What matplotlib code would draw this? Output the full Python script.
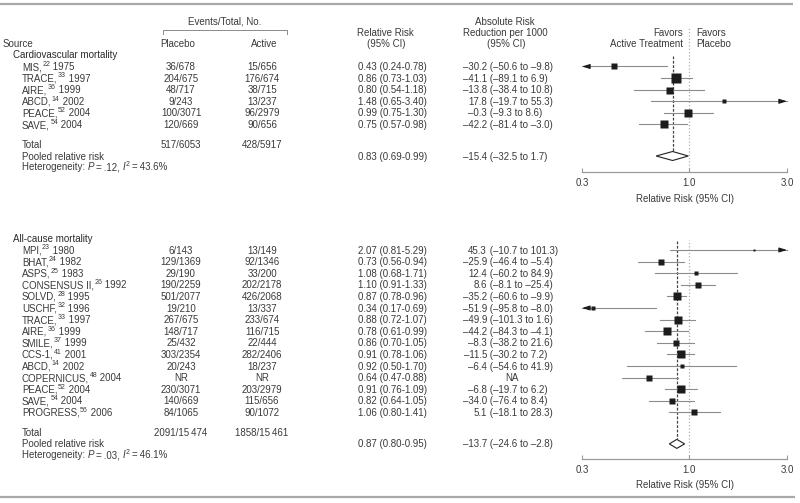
import matplotlib
matplotlib.use("Agg")
import matplotlib.pyplot as plt
from matplotlib.ticker import NullLocator

plt.rcParams['font.family'] = ['Liberation Sans', 'DejaVu Sans']

# ---- cardiovascular mortality ----
cv_names = ["MIS", "TRACE", "AIRE", "ABCD", "PEACE", "SAVE"]
cv_refs = ["22", "33", "36", "14", "52", "54"]
cv_years = ["1975", "1997", "1999", "2002", "2004", "2004"]
cv_placebo = ["36/678", "204/675", "48/717", "9/243", "100/3071", "120/669"]
cv_active = ["15/656", "176/674", "38/715", "13/237", "96/2979", "90/656"]
cv_rr = [0.43, 0.86, 0.80, 1.48, 0.99, 0.75]
cv_lo = [0.24, 0.73, 0.54, 0.65, 0.75, 0.57]
cv_hi = [0.78, 1.03, 1.18, 3.40, 1.30, 0.98]
cv_arr = ["–30.2", "–41.1", "–13.8", "17.8", "–0.3", "–42.2"]
cv_arr_ci = ["(–50.6 to –9.8)", "(–89.1 to 6.9)", "(–38.4 to 10.8)",
             "(–19.7 to 55.3)", "(–9.3 to 8.6)", "(–81.4 to –3.0)"]
cv_weight = [5.5, 10, 7, 3.7, 8.7, 8]
cv_total = ["517/6053", "428/5917"]
cv_pooled = [0.83, 0.69, 0.99]
cv_pooled_arr = ["–15.4", "(–32.5 to 1.7)"]
cv_het = [".12", "43.6%"]

# ---- all-cause mortality ----
ac_names = ["MPI", "BHAT", "ASPS", "CONSENSUS II", "SOLVD", "USCHF", "TRACE", "AIRE",
            "SMILE", "CCS-1", "ABCD", "COPERNICUS", "PEACE", "SAVE", "PROGRESS"]
ac_refs = ["23", "24", "25", "26", "28", "32", "33", "36", "37", "41", "14", "48",
           "52", "54", "56"]
ac_years = ["1980", "1982", "1983", "1992", "1995", "1996", "1997", "1999", "1999",
            "2001", "2002", "2004", "2004", "2004", "2006"]
ac_placebo = ["6/143", "129/1369", "29/190", "190/2259", "501/2077", "19/210",
              "267/675", "148/717", "25/432", "303/2354", "20/243", "NR",
              "230/3071", "140/669", "84/1065"]
ac_active = ["13/149", "92/1346", "33/200", "202/2178", "426/2068", "13/337",
             "233/674", "116/715", "22/444", "282/2406", "18/237", "NR",
             "203/2979", "115/656", "90/1072"]
ac_rr = [2.07, 0.73, 1.08, 1.10, 0.87, 0.34, 0.88, 0.78, 0.86, 0.91, 0.92, 0.64, 0.91, 0.82, 1.06]
ac_lo = [0.81, 0.56, 0.68, 0.91, 0.78, 0.17, 0.72, 0.61, 0.70, 0.78, 0.50, 0.47, 0.76, 0.64, 0.80]
ac_hi = [5.29, 0.94, 1.71, 1.33, 0.96, 0.69, 1.07, 0.99, 1.05, 1.06, 1.70, 0.88, 1.09, 1.05, 1.41]
ac_arr = ["45.3", "–25.9", "12.4", "8.6", "–35.2", "–51.9", "–49.9", "–44.2",
          "–8.3", "–11.5", "–6.4", "NA", "–6.8", "–34.0", "5.1"]
ac_arr_ci = ["(–10.7 to 101.3)", "(–46.4 to –5.4)", "(–60.2 to 84.9)", "(–8.1 to –25.4)",
             "(–60.6 to –9.9)", "(–95.8 to –8.0)", "(–101.3 to 1.6)", "(–84.3 to –4.1)",
             "(–38.2 to 21.6)", "(–30.2 to 7.2)", "(–54.6 to 41.9)", "",
             "(–19.7 to 6.2)", "(–76.4 to 8.4)", "(–18.1 to 28.3)"]
ac_weight = [2.7, 6.7, 4.7, 6.7, 8.7, 4, 7.3, 7.3, 6.7, 8, 3.3, 5.3, 7.3, 6.7, 6]
ac_total = ["2091/15\u2009474", "1858/15\u2009461"]
ac_pooled = [0.87, 0.80, 0.95]
ac_pooled_arr = ["–13.7", "(–24.6 to –2.8)"]
ac_het = [".03", "46.1%"]

W, H = 800, 503
TXT = '#3a3a3a'
FS = 7
SUP = 5
XMIN, XMAX = 0.3, 3.0
THIN = "\u2009"

fig = plt.figure(figsize=(8, 5.03), dpi=100)
tab = fig.add_axes([0, 0, 1, 1])
tab.set_xlim(0, W)
tab.set_ylim(H, 0)
tab.axis('off')


def put(x, y, s, ha='left', color=TXT):
    # y is the row centre in pixels; shift to baseline
    return tab.text(x, y + 3.5, s, ha=ha, va='baseline', fontsize=FS, color=color)


def chain(x, y, parts):
    # parts: (text, kind) with kind 'n' normal, 'i' italic, 's' superscript
    prev = put(x, y, parts[0][0])
    lift = 0
    for s, kind in parts[1:]:
        new_lift = 3.0 if kind == 's' else 0
        prev = tab.annotate(s, xy=(1, 0), xycoords=prev,
                            xytext=(0.3 if kind == 's' else 0, new_lift - lift),
                            textcoords='offset points', ha='left', va='bottom',
                            fontsize=SUP if kind == 's' else FS,
                            style='italic' if kind == 'i' else 'normal', color=TXT)
        lift = new_lift


# rules and header
tab.plot([0, 793], [4, 4], color='#a8a8a8', lw=1.6, solid_capstyle='butt')
tab.plot([0, 795], [497, 497], color='#a8a8a8', lw=1.6, solid_capstyle='butt')
put(225, 21, "Events/Total, No.", ha='center')
tab.plot([163, 163, 287, 287], [34, 29.5, 29.5, 34], color='#8a8a8a', lw=0.7)
put(3, 43, "Source")
put(178, 43, "Placebo", ha='center')
put(264, 43, "Active", ha='center')
put(385, 32, "Relative Risk", ha='center')
put(386, 43, "(95% CI)", ha='center')
put(505, 21, "Absolute Risk", ha='center')
put(505, 32, "Reduction per 1000", ha='center')
put(506, 43, "(95% CI)", ha='center')
put(683, 32, "Favors", ha='right')
put(683, 43, "Active Treatment", ha='right')
put(696, 32, "Favors")
put(696, 43, "Placebo")


def section(title, head_y, ax_top, dash_top, axis_y, names, refs, years, plac, act,
            rr, lo, hi, arr, arr_ci, weight, total, pooled, pooled_arr, het):
    step = 11.6
    ys = [head_y + 12 + i * step for i in range(len(names))]
    y_tot = ys[-1] + 20.5
    y_pool = y_tot + 11
    y_het = y_pool + 11

    put(13, head_y, title, color='#2a2a2a')
    for i, y in enumerate(ys):
        chain(22, y, [(names[i] + ",", 'n'), (refs[i], 's'), (" " + years[i], 'n')])
        put(181, y, plac[i], ha='center')
        put(262, y, act[i], ha='center')
        put(358, y, f"{rr[i]:.2f} ({lo[i]:.2f}-{hi[i]:.2f})")
        if arr_ci[i]:
            put(487, y, arr[i], ha='right')
            put(487, y, " " + arr_ci[i])
        else:
            put(512, y, arr[i], ha='center')
    put(22, y_tot, "Total")
    put(181, y_tot, total[0], ha='center')
    put(262, y_tot, total[1], ha='center')
    put(22, y_pool, "Pooled relative risk")
    put(358, y_pool, f"{pooled[0]:.2f} ({pooled[1]:.2f}-{pooled[2]:.2f})")
    put(487, y_pool, pooled_arr[0], ha='right')
    put(487, y_pool, " " + pooled_arr[1])
    chain(22, y_het, [("Heterogeneity: ", 'n'), ("P", 'i'),
                      (THIN + "=" + THIN + het[0] + ", ", 'n'),
                      ("I", 'i'), ("2", 's'), (THIN + "=" + THIN + het[1], 'n')])

    ax = fig.add_axes([582 / W, 1 - axis_y / H, 205 / W, (axis_y - ax_top) / H])
    ax.set_xscale('log')
    ax.set_xlim(XMIN, XMAX)
    ax.set_ylim(axis_y, ax_top)
    ax.patch.set_alpha(0)
    for s in ['top', 'right', 'left']:
        ax.spines[s].set_visible(False)
    ax.spines['bottom'].set_color('#9a9a9a')
    ax.spines['bottom'].set_linewidth(0.9)
    ax.set_yticks([])
    ax.set_xticks([0.3, 1.0, 3.0])
    ax.set_xticklabels(["0.3", "1.0", "3.0"])
    ax.xaxis.set_minor_locator(NullLocator())
    ax.tick_params(axis='x', direction='in', length=3, width=0.8, color='#9a9a9a',
                   labelsize=FS, labelcolor=TXT, pad=4.5)
    ax.set_xlabel("Relative Risk (95% CI)", fontsize=FS, color=TXT, labelpad=4)

    ax.axvline(1.0, color='#b0b0b0', ls=':', lw=0.9, zorder=1)
    dh = 4.5
    ax.plot([pooled[0], pooled[0]], [dash_top, y_pool - dh], color='#444444',
            ls=(0, (2.2, 1.3)), lw=0.9, zorder=1)

    for i, y in enumerate(ys):
        x0 = max(lo[i], XMIN)
        x1 = min(hi[i], XMAX)
        ax.plot([x0, x1], [y, y], color='#8c8c8c', lw=0.8, zorder=2, clip_on=False)
        ax.plot(rr[i], y, marker='s', ms=weight[i] * 0.72, color='#1c1c1c',
                mec='none', zorder=3)
        arrow = dict(arrowstyle='-|>,head_length=0.45,head_width=0.14', color='#1c1c1c',
                     lw=0.8, shrinkA=0, shrinkB=0, mutation_scale=10)
        if lo[i] < XMIN:
            ax.annotate("", xy=(XMIN, y), xytext=(XMIN * 1.08, y), arrowprops=arrow,
                        annotation_clip=False, zorder=4)
        if hi[i] > XMAX:
            ax.annotate("", xy=(XMAX, y), xytext=(XMAX / 1.08, y), arrowprops=arrow,
                        annotation_clip=False, zorder=4)

    ax.fill([pooled[1], pooled[0], pooled[2], pooled[0]],
            [y_pool, y_pool - dh, y_pool, y_pool + dh],
            facecolor='white', edgecolor='#222222', lw=0.8, zorder=3)


section("Cardiovascular mortality", 54.5, 27, 56, 172, cv_names, cv_refs, cv_years,
        cv_placebo, cv_active, cv_rr, cv_lo, cv_hi, cv_arr, cv_arr_ci, cv_weight,
        cv_total, cv_pooled, cv_pooled_arr, cv_het)
section("All-cause mortality", 238, 240, 241, 458.5, ac_names, ac_refs, ac_years,
        ac_placebo, ac_active, ac_rr, ac_lo, ac_hi, ac_arr, ac_arr_ci, ac_weight,
        ac_total, ac_pooled, ac_pooled_arr, ac_het)

fig.savefig("out.png", dpi=100)
